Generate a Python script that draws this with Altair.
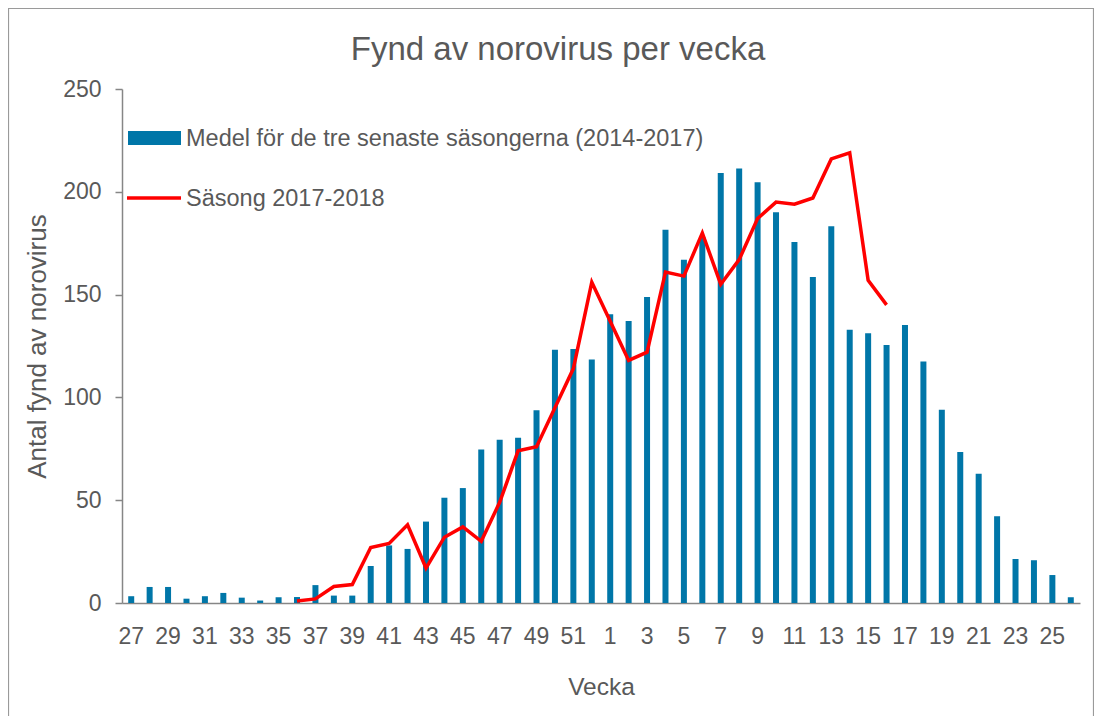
import altair as alt
import pandas as pd

# ---- data ----
WEEKS = [str(w) for w in list(range(27, 53)) + list(range(1, 27))]
MEAN_3_SEASONS = [3.3, 7.8, 7.8, 2.1, 3.3, 4.9, 2.6, 1.2, 2.8, 2.9,
                  8.7, 3.6, 3.6, 18, 28, 26.3, 39.6, 51.2, 55.9, 74.6,
                  79.4, 80.4, 93.7, 123.2, 123.5, 118.4,
                  140.4, 137.2, 148.8, 181.6, 167, 178, 209.1, 211.3, 204.6, 190,
                  175.6, 158.6, 183.2, 132.9, 131.2, 125.5, 135.2, 117.5, 94, 73.4,
                  62.9, 42.2, 21.4, 20.8, 13.6, 2.8]
SEASON_WEEKS = [str(w) for w in list(range(36, 53)) + list(range(1, 17))]
SEASON_2017_18 = [1, 2, 8, 9, 27, 29, 38, 17, 32, 37,
                  30, 49, 74, 76, 95, 114, 156,
                  137, 118, 122, 161, 159, 180, 155, 167, 187, 195,
                  194, 197, 216, 219, 157, 145]
X_LABELS = WEEKS[::2]
Y_TICKS = [0, 50, 100, 150, 200, 250]
LEGEND_LABELS = ["Medel för de tre senaste säsongerna (2014-2017)", "Säsong 2017-2018"]
TITLE = "Fynd av norovirus per vecka"
X_TITLE = "Vecka"
Y_TITLE = "Antal fynd av norovirus"

BLUE = "#0076A8"
RED = "#FF0000"
TEXT = "#595959"
AXIS = "#868686"
FONT = "Liberation Sans"

W, H = 958, 514
PAD = {"left": 114, "top": 81, "right": 14, "bottom": 113}

bars_df = pd.DataFrame({"week": WEEKS, "value": MEAN_3_SEASONS})
line_df = pd.DataFrame({"week": SEASON_WEEKS, "value": SEASON_2017_18})
one = pd.DataFrame({"k": [0]})

x_scale = alt.Scale(domain=WEEKS, paddingInner=0, paddingOuter=0)
y_scale = alt.Scale(domain=[0, 250], nice=False)

x_axis = alt.Axis(values=X_LABELS, title=X_TITLE, labelAngle=0, ticks=False, tickSize=0,
                  labelPadding=22, titlePadding=27, titleFontSize=24.5,
                  titleFont=FONT, titleFontWeight="normal", titleColor=TEXT)
y_axis = alt.Axis(values=Y_TICKS, title=Y_TITLE, tickSize=7, labelPadding=14,
                  titlePadding=12, titleFontSize=26, titleFont=FONT,
                  titleFontWeight="normal", titleColor=TEXT)

bars = alt.Chart(bars_df).mark_bar(size=6, color=BLUE).encode(
    x=alt.X("week:N", scale=x_scale, axis=x_axis, sort=WEEKS),
    y=alt.Y("value:Q", scale=y_scale, axis=y_axis),
)

line = alt.Chart(line_df).mark_line(color=RED, strokeWidth=3.5).encode(
    x=alt.X("week:N", scale=x_scale, sort=WEEKS),
    y=alt.Y("value:Q", scale=y_scale),
)

# legend (decoration)
leg_rect = alt.Chart(one).mark_rect(color=BLUE).encode(
    x=alt.value(6), x2=alt.value(59), y=alt.value(42), y2=alt.value(56))
leg_rule = alt.Chart(one).mark_rule(color=RED, strokeWidth=3.5).encode(
    x=alt.value(5), x2=alt.value(59), y=alt.value(109))
leg_t1 = alt.Chart(one).mark_text(text=LEGEND_LABELS[0], font=FONT, fontSize=23.5,
                                  color=TEXT, align="left", baseline="alphabetic").encode(
    x=alt.value(64), y=alt.value(57))
leg_t2 = alt.Chart(one).mark_text(text=LEGEND_LABELS[1], font=FONT, fontSize=23.5,
                                  color=TEXT, align="left", baseline="alphabetic").encode(
    x=alt.value(64), y=alt.value(117))

# chart title (text mark so it sits at the reference position)
title = alt.Chart(one).mark_text(text=TITLE, font=FONT, fontSize=33, color=TEXT,
                                 align="center", baseline="alphabetic").encode(
    x=alt.value(436), y=alt.value(-29))

# chart frame (decoration)
frame = alt.Chart(one).mark_rect(fill=None, stroke="#9a9a9a", strokeWidth=1.2).encode(
    x=alt.value(-PAD["left"] + 0.5), x2=alt.value(W + PAD["right"] - 0.5),
    y=alt.value(-PAD["top"] + 0.5), y2=alt.value(H + PAD["bottom"] + 20))

chart = alt.layer(frame, bars, line, leg_rect, leg_rule, leg_t1, leg_t2, title).properties(
    width=W, height=H,
    padding=PAD,
    autosize=alt.AutoSizeParams(type="none"),
).configure_view(stroke=None).configure_axis(
    labelFont=FONT, labelFontSize=23, labelColor=TEXT,
    domainColor=AXIS, domainWidth=1.5, tickColor=AXIS, tickWidth=1.5, grid=False,
)

chart.save("out.html", embed_options={"renderer": "svg", "actions": False})
